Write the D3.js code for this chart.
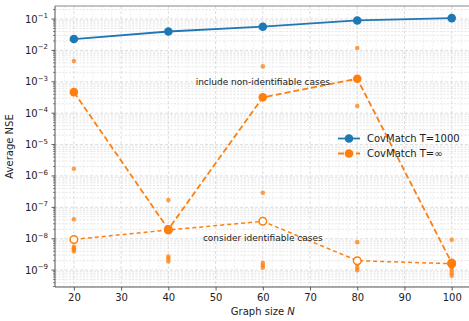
<!DOCTYPE html>
<html><head><meta charset="utf-8">
<script src="https://cdn.jsdelivr.net/npm/d3@7"></script>
<style>body{margin:0;background:#fff;} svg{display:block;font-family:"DejaVu Sans",sans-serif;}</style>
</head><body>
<svg id="c" width="469" height="321"></svg>
<script>
const graphSizes = [20, 40, 60, 80, 100];
const covMatchT1000 = [0.023, 0.040, 0.057, 0.090, 0.107];
const covMatchInfAll = [4.7e-4, 2.0e-8, 3.2e-4, 1.25e-3, 1.7e-9];
const covMatchInfIdent = [9.5e-9, 1.9e-8, 3.6e-8, 2.0e-9, 1.6e-9];
const runX = [20,20,20,20,20,20,20, 40,40,40,40, 60,60,60,60,60, 80,80,80,80,80,80, 100,100,100,100,100];
const runY = [4.6e-3,1.7e-6,4.2e-8,5.6e-9,5.0e-9,4.5e-9,4.0e-9,
              1.7e-7,2.7e-9,2.3e-9,1.9e-9,
              3.1e-3,2.9e-7,1.7e-9,1.4e-9,1.2e-9,
              1.2e-2,1.7e-4,7.8e-9,1.5e-9,1.2e-9,1.0e-9,
              9.3e-9,1.2e-9,1.0e-9,8.0e-10,6.6e-10];
const xTicks = [20,30,40,50,60,70,80,90,100];
const yTickExps = [-9,-8,-7,-6,-5,-4,-3,-2,-1];
const seriesLabels = ["CovMatch T=1000", "CovMatch T=\u221e"];

const svg = d3.select("#c");
const L = 55, R = 470.6, T = 6, B = 287;
const x = d3.scaleLinear().domain([16, 104]).range([L, R]);
const y = d3.scaleLog().domain([2.9e-10, 0.26]).range([B, T]);
const blue = "#1f77b4", orange = "#ff7f0e";

const g = svg.append("g");
// minor grid
const minorY = [];
for (let e = -10; e <= 0; e++) for (let k = 2; k <= 9; k++) { const v = k * Math.pow(10, e); if (v > 2.9e-10 && v < 0.26) minorY.push(v); }
g.selectAll(".mgy").data(minorY).enter().append("line")
  .attr("x1", L).attr("x2", R).attr("y1", d => y(d)).attr("y2", d => y(d))
  .attr("stroke", "#e0e0e0").attr("stroke-width", 0.8).attr("stroke-dasharray", "2,1.5");
const minorX = d3.range(16, 105, 2).filter(v => v % 10 !== 0);
g.selectAll(".mgx").data(minorX).enter().append("line")
  .attr("y1", T).attr("y2", B).attr("x1", d => x(d)).attr("x2", d => x(d))
  .attr("stroke", "#ececec").attr("stroke-width", 0.8).attr("stroke-dasharray", "2,1.5");
// major grid
g.selectAll(".gy").data(yTickExps).enter().append("line")
  .attr("x1", L).attr("x2", R).attr("y1", d => y(Math.pow(10, d))).attr("y2", d => y(Math.pow(10, d)))
  .attr("stroke", "#d6d6d6").attr("stroke-width", 0.8).attr("stroke-dasharray", "3,2");
g.selectAll(".gx").data(xTicks).enter().append("line")
  .attr("y1", T).attr("y2", B).attr("x1", d => x(d)).attr("x2", d => x(d))
  .attr("stroke", "#d6d6d6").attr("stroke-width", 0.8).attr("stroke-dasharray", "3,2");

// axes
const xAxis = d3.axisBottom(x).tickValues(xTicks).tickSize(3.5).tickPadding(3.5);
const xa = svg.append("g").attr("transform", `translate(0,${B})`).call(xAxis);
xa.select(".domain").remove();
xa.selectAll("text").attr("font-size", 10).attr("fill", "#222").attr("font-family", "DejaVu Sans");
xa.selectAll("line").attr("stroke", "#333").attr("stroke-width", 0.8);

const ya = svg.append("g").attr("transform", `translate(${L},0)`);
ya.selectAll(".mt").data(minorY).enter().append("line")
  .attr("x1", -2).attr("x2", 0).attr("y1", d => y(d)).attr("y2", d => y(d)).attr("stroke", "#333").attr("stroke-width", 0.6);
ya.selectAll(".t").data(yTickExps).enter().append("line")
  .attr("x1", -3.5).attr("x2", 0).attr("y1", d => y(Math.pow(10, d))).attr("y2", d => y(Math.pow(10, d))).attr("stroke", "#333").attr("stroke-width", 0.8);
const yl = ya.selectAll(".tl").data(yTickExps).enter().append("text")
  .attr("x", -7).attr("y", d => y(Math.pow(10, d)) + 3.5).attr("text-anchor", "end")
  .attr("font-size", 10).attr("fill", "#222");
yl.append("tspan").text("10");
yl.append("tspan").attr("dy", -4.5).attr("font-size", 7).text(d => "\u2212" + Math.abs(d));

// spines
svg.append("line").attr("x1", L).attr("x2", L).attr("y1", T).attr("y2", B).attr("stroke", "#555").attr("stroke-width", 1);
svg.append("line").attr("x1", L).attr("x2", R).attr("y1", B).attr("y2", B).attr("stroke", "#555").attr("stroke-width", 1);
svg.append("line").attr("x1", L).attr("x2", R).attr("y1", T).attr("y2", T).attr("stroke", "#888").attr("stroke-width", 1);

// labels
svg.append("text").attr("x", x(60)).attr("y", 315).attr("text-anchor", "middle").attr("font-size", 10).attr("fill", "#222")
  .html('Graph size <tspan font-style="italic">N</tspan>');
svg.append("text").attr("transform", `translate(13,${(T + B) / 2}) rotate(-90)`).attr("text-anchor", "middle")
  .attr("font-size", 10).attr("fill", "#222").text("Average NSE");

// scatter of runs
svg.selectAll(".run").data(runX.map((v, i) => [v, runY[i]])).enter().append("circle")
  .attr("cx", d => x(d[0])).attr("cy", d => y(d[1])).attr("r", 2.3).attr("fill", orange).attr("opacity", 0.75);

const line = d3.line().x(d => x(d[0])).y(d => y(d[1]));
const mk = (xs, ys) => xs.map((v, i) => [v, ys[i]]);

// identifiable (open)
svg.append("path").datum(mk(graphSizes, covMatchInfIdent)).attr("d", line).attr("fill", "none")
  .attr("stroke", orange).attr("stroke-width", 1.5).attr("stroke-dasharray", "4,3");
svg.selectAll(".oi").data(mk(graphSizes, covMatchInfIdent)).enter().append("circle")
  .attr("cx", d => x(d[0])).attr("cy", d => y(d[1])).attr("r", 3.8).attr("fill", "#fff").attr("stroke", orange).attr("stroke-width", 1.5);

// all cases
svg.append("path").datum(mk(graphSizes, covMatchInfAll)).attr("d", line).attr("fill", "none")
  .attr("stroke", orange).attr("stroke-width", 1.8).attr("stroke-dasharray", "6,3");
svg.selectAll(".oa").data(mk(graphSizes, covMatchInfAll)).enter().append("circle")
  .attr("cx", d => x(d[0])).attr("cy", d => y(d[1])).attr("r", 4.3).attr("fill", orange);

// T=1000
svg.append("path").datum(mk(graphSizes, covMatchT1000)).attr("d", line).attr("fill", "none")
  .attr("stroke", blue).attr("stroke-width", 1.8);
svg.selectAll(".b").data(mk(graphSizes, covMatchT1000)).enter().append("circle")
  .attr("cx", d => x(d[0])).attr("cy", d => y(d[1])).attr("r", 4.3).attr("fill", blue);

// annotations
svg.append("text").attr("x", x(60)).attr("y", y(1e-3) + 3).attr("text-anchor", "middle").attr("font-size", 9).attr("fill", "#222")
  .text("include non-identifiable cases");
svg.append("text").attr("x", x(60)).attr("y", y(1e-8) + 2).attr("text-anchor", "middle").attr("font-size", 9).attr("fill", "#222")
  .text("consider identifiable cases");

// legend
const lg = svg.append("g");
[0, 1].forEach(i => {
  const ly = 138.5 + i * 15;
  const c = i === 0 ? blue : orange;
  lg.append("line").attr("x1", 338).attr("x2", 360).attr("y1", ly).attr("y2", ly).attr("stroke", c).attr("stroke-width", 1.8)
    .attr("stroke-dasharray", i === 0 ? null : "6,3");
  lg.append("circle").attr("cx", 349).attr("cy", ly).attr("r", 4.3).attr("fill", c);
  lg.append("text").attr("x", 367).attr("y", ly + 3.6).attr("font-size", 10).attr("fill", "#222").text(seriesLabels[i]);
});
</script>
</body></html>
